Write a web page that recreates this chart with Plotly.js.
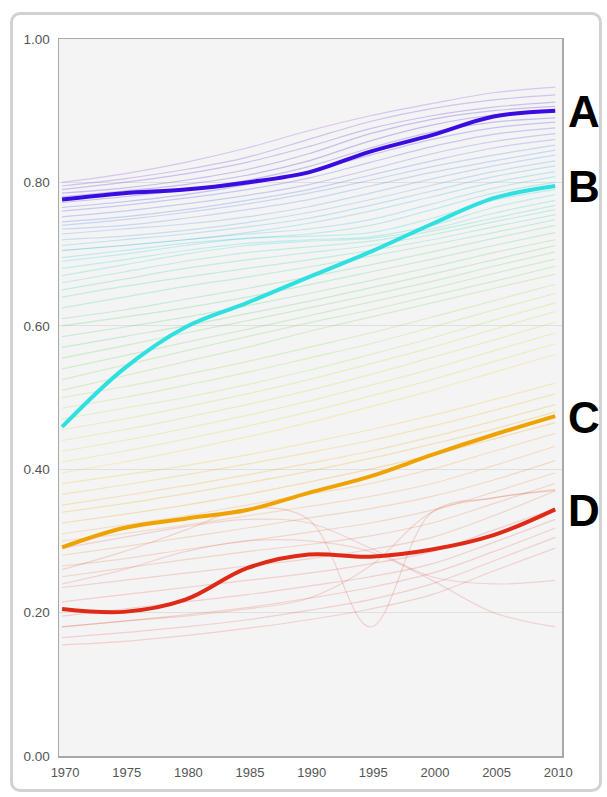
<!DOCTYPE html>
<html><head><meta charset="utf-8">
<script src="https://cdn.plot.ly/plotly-3.0.1.min.js"></script>
<style>
html,body{margin:0;padding:0;background:#fff;}
#chart{position:absolute;left:0;top:0;width:607px;height:797px;}
#frame{position:absolute;left:10px;top:12px;width:586px;height:774px;border:3px solid #d2d2d2;border-radius:10px;pointer-events:none;}
</style></head><body>
<div id="chart"></div><div id="frame"></div>
<script>
// ---- data ----
const years = [1970, 1975, 1980, 1985, 1990, 1995, 2000, 2005, 2010];
const xTickVals = [1970, 1975, 1980, 1985, 1990, 1995, 2000, 2005, 2010];
const yTickVals = [0, 0.2, 0.4, 0.6, 0.8, 1.0];
const yTickText = ["0.00", "0.20", "0.40", "0.60", "0.80", "1.00"];

const seriesA = [0.776, 0.785, 0.790, 0.800, 0.814, 0.843, 0.866, 0.892, 0.900];
const seriesB = [0.459, 0.540, 0.598, 0.632, 0.668, 0.703, 0.742, 0.778, 0.795];
const seriesC = [0.291, 0.318, 0.331, 0.343, 0.367, 0.390, 0.420, 0.448, 0.474];
const seriesD = [0.205, 0.201, 0.218, 0.262, 0.281, 0.278, 0.288, 0.308, 0.344];
const highlightNames = ["A", "B", "C", "D"];

// faint background series (one row per country), same years
const faintSeries = [
  [0.800,0.812,0.828,0.848,0.872,0.893,0.910,0.925,0.933],
  [0.795,0.805,0.818,0.835,0.860,0.885,0.903,0.915,0.922],
  [0.790,0.800,0.812,0.828,0.850,0.875,0.893,0.905,0.912],
  [0.785,0.792,0.803,0.818,0.840,0.868,0.888,0.900,0.906],
  [0.780,0.788,0.797,0.810,0.830,0.858,0.880,0.894,0.898],
  [0.772,0.780,0.790,0.803,0.822,0.848,0.870,0.884,0.890],
  [0.765,0.773,0.783,0.797,0.815,0.838,0.860,0.876,0.884],
  [0.760,0.768,0.778,0.790,0.806,0.828,0.850,0.867,0.876],
  [0.752,0.760,0.770,0.782,0.797,0.818,0.840,0.857,0.868],
  [0.745,0.752,0.762,0.775,0.790,0.810,0.830,0.848,0.860],
  [0.740,0.748,0.758,0.770,0.785,0.803,0.822,0.838,0.852],
  [0.735,0.740,0.750,0.762,0.776,0.795,0.814,0.830,0.845],
  [0.728,0.735,0.742,0.752,0.766,0.785,0.805,0.823,0.838],
  [0.720,0.725,0.733,0.744,0.758,0.776,0.796,0.815,0.830],
  [0.712,0.720,0.728,0.738,0.750,0.768,0.788,0.808,0.823],
  [0.705,0.712,0.720,0.730,0.743,0.760,0.780,0.800,0.815],
  [0.705,0.712,0.720,0.728,0.735,0.748,0.770,0.792,0.808],
  [0.695,0.705,0.715,0.722,0.728,0.740,0.762,0.785,0.800],
  [0.690,0.700,0.712,0.722,0.725,0.730,0.750,0.775,0.790],
  [0.680,0.692,0.705,0.715,0.720,0.724,0.740,0.765,0.783],
  [0.670,0.685,0.700,0.712,0.718,0.722,0.735,0.757,0.775],
  [0.660,0.675,0.690,0.702,0.710,0.718,0.732,0.750,0.768],
  [0.650,0.665,0.680,0.692,0.702,0.712,0.727,0.745,0.762],
  [0.640,0.655,0.668,0.680,0.692,0.705,0.720,0.738,0.755],
  [0.625,0.640,0.655,0.668,0.682,0.697,0.713,0.730,0.748],
  [0.610,0.622,0.637,0.652,0.668,0.685,0.703,0.722,0.740],
  [0.600,0.612,0.625,0.640,0.657,0.675,0.693,0.712,0.730],
  [0.585,0.598,0.612,0.628,0.645,0.663,0.682,0.702,0.720],
  [0.570,0.585,0.600,0.617,0.634,0.653,0.672,0.692,0.712],
  [0.555,0.572,0.590,0.607,0.625,0.643,0.662,0.683,0.703],
  [0.540,0.558,0.577,0.595,0.614,0.633,0.652,0.673,0.693],
  [0.525,0.545,0.565,0.585,0.604,0.622,0.642,0.662,0.683],
  [0.510,0.530,0.550,0.570,0.592,0.612,0.632,0.652,0.672],
  [0.500,0.515,0.532,0.550,0.570,0.590,0.612,0.635,0.658],
  [0.485,0.500,0.517,0.535,0.555,0.575,0.598,0.622,0.645],
  [0.470,0.485,0.500,0.518,0.538,0.560,0.583,0.608,0.632],
  [0.455,0.470,0.487,0.505,0.525,0.547,0.570,0.595,0.620],
  [0.440,0.455,0.472,0.490,0.510,0.532,0.556,0.580,0.605],
  [0.425,0.440,0.457,0.475,0.495,0.517,0.540,0.565,0.590],
  [0.410,0.425,0.442,0.460,0.480,0.502,0.525,0.550,0.575],
  [0.395,0.410,0.427,0.445,0.465,0.487,0.510,0.535,0.560],
  [0.380,0.392,0.405,0.420,0.437,0.455,0.475,0.497,0.520],
  [0.365,0.378,0.392,0.407,0.423,0.440,0.460,0.482,0.505],
  [0.350,0.363,0.377,0.392,0.408,0.425,0.445,0.467,0.490],
  [0.340,0.352,0.366,0.381,0.397,0.415,0.435,0.456,0.480],
  [0.325,0.337,0.350,0.365,0.382,0.400,0.420,0.442,0.465],
  [0.310,0.322,0.335,0.350,0.365,0.380,0.400,0.425,0.450],
  [0.300,0.310,0.322,0.335,0.348,0.362,0.380,0.405,0.432],
  [0.280,0.292,0.305,0.318,0.332,0.345,0.362,0.385,0.412],
  [0.265,0.275,0.288,0.300,0.312,0.325,0.343,0.368,0.395],
  [0.250,0.262,0.274,0.285,0.295,0.307,0.325,0.352,0.380],
  [0.235,0.245,0.255,0.265,0.275,0.288,0.305,0.335,0.370],
  [0.215,0.225,0.235,0.245,0.255,0.268,0.285,0.315,0.345],
  [0.195,0.205,0.215,0.225,0.237,0.250,0.268,0.298,0.330],
  [0.180,0.188,0.197,0.207,0.220,0.235,0.255,0.285,0.318],
  [0.165,0.172,0.180,0.190,0.203,0.218,0.240,0.272,0.305],
  [0.155,0.160,0.168,0.178,0.190,0.205,0.225,0.258,0.290],
  [0.260,0.285,0.315,0.345,0.330,0.180,0.340,0.360,0.370],
  [0.240,0.260,0.285,0.300,0.300,0.285,0.245,0.200,0.180],
  [0.180,0.188,0.195,0.205,0.220,0.265,0.340,0.360,0.372],
  [0.290,0.305,0.320,0.330,0.325,0.290,0.250,0.240,0.245]
];

// ---- styles ----
const colorStops = [
  [0.18,[226,80,90]],[0.35,[224,60,45]],[0.47,[240,160,0]],[0.55,[232,215,50]],
  [0.63,[170,225,60]],[0.71,[80,210,90]],[0.79,[40,215,215]],[0.85,[70,130,240]],
  [0.90,[60,20,225]],[0.94,[140,80,225]]
];
function colorFor(v, a) {
  let c = colorStops[0][1];
  if (v >= colorStops[colorStops.length-1][0]) c = colorStops[colorStops.length-1][1];
  else {
    for (let i = 0; i < colorStops.length-1; i++) {
      const [v0,c0] = colorStops[i], [v1,c1] = colorStops[i+1];
      if (v >= v0 && v <= v1) {
        const t = (v - v0) / (v1 - v0);
        c = c0.map((x, k) => Math.round(x + (c1[k]-x)*t));
        break;
      }
    }
  }
  return `rgba(${c[0]},${c[1]},${c[2]},${a})`;
}

const traces = [];
faintSeries.forEach(s => {
  const last = s[s.length-1];
  traces.push({
    x: years, y: s, type: 'scatter', mode: 'lines', hoverinfo: 'skip',
    line: {shape: 'spline', smoothing: 1, width: 1.2, color: colorFor(last, last < 0.46 ? 0.2 : 0.26)},
    showlegend: false
  });
});
const highlight = [
  [seriesD, '#e02a18'],
  [seriesC, '#f0a200'],
  [seriesB, '#2ee0e0'],
  [seriesA, '#3a0ce0']
];
highlight.forEach(([s, col]) => {
  traces.push({
    x: years, y: s, type: 'scatter', mode: 'lines', hoverinfo: 'skip',
    line: {shape: 'spline', smoothing: 1, width: 4, color: col},
    showlegend: false
  });
});

const ends = [seriesA, seriesB, seriesC, seriesD];
const annotations = highlightNames.map((n, i) => ({
  text: '<b>' + n + '</b>', xref: 'paper', x: 1, xanchor: 'left', xshift: 4,
  yref: 'y', y: ends[i][ends[i].length-1], yanchor: 'middle', yshift: -1,
  showarrow: false, font: {family: 'Liberation Sans, Arial, sans-serif', size: 44, color: '#000'}
}));

const layout = {
  width: 607, height: 797,
  margin: {l: 59, r: 45, t: 39, b: 41},
  paper_bgcolor: 'rgba(0,0,0,0)',
  plot_bgcolor: '#f4f4f4',
  showlegend: false,
  xaxis: {
    range: [1969.75, 2010.55], tickvals: xTickVals, showgrid: false, zeroline: false,
    showline: true, mirror: true, linecolor: '#a8a8a8', linewidth: 1.5,
    ticks: '', ticklabelstandoff: 4, ticklabelshift: 3,
    tickfont: {family: 'Liberation Sans, Arial, sans-serif', size: 13, color: '#555'}
  },
  yaxis: {
    range: [0, 1], tickvals: yTickVals, ticktext: yTickText,
    showgrid: true, gridcolor: '#e0e0e0', gridwidth: 1, zeroline: false,
    showline: true, mirror: true, linecolor: '#a8a8a8', linewidth: 1.5,
    ticks: '', ticklabelstandoff: 5,
    tickfont: {family: 'Liberation Sans, Arial, sans-serif', size: 13.5, color: '#555'}
  },
  annotations: annotations
};
Plotly.newPlot('chart', traces, layout, {staticPlot: true, displayModeBar: false});
</script>
</body></html>
